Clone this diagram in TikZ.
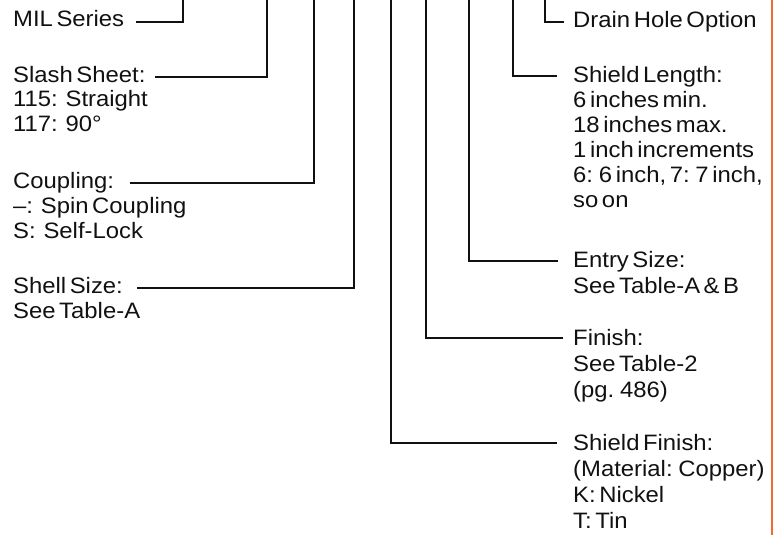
\documentclass[tikz,border=0pt]{standalone}
\usepackage{fontspec}
\setmainfont{Liberation Sans}[FakeStretch=1.07]
\usetikzlibrary{positioning}
\definecolor{Ink}{HTML}{111111}
\definecolor{Edge}{HTML}{F26A2E}
\newcommand\noteFont{\fontsize{22.3}{25}\selectfont\spaceskip=3.6pt plus 1pt\relax}
\newcommand\wideFont{\fontsize{22.3}{26.3}\selectfont\spaceskip=3.6pt plus 1pt\relax}
\newcommand\optgap{\hspace{.35em}}
\tikzset{
  note/.style={inner sep=0pt,anchor=base west,align=left,text=Ink},
  lead/.style={draw=Ink,line width=1.5pt},
  edgeLine/.style={draw=Edge,line width=2.2pt}
}

\begin{document}
\begin{tikzpicture}[x=1pt,y=-1pt,font=\noteFont]
  \useasboundingbox (0,0) rectangle (773,535);
  % left column (option nodes sit on the baseline of their last line)
  \node[note] (mil) at (13,27) {MIL Series};
  \node[note] (slash) at (13,82) {Slash Sheet:};
  \node[note] (slashOpt) at ([yshift=-49pt]slash.base west) {115:\optgap Straight\\117:\optgap 90°};
  \node[note] (coupling) at (13,188) {Coupling:};
  \node[note] (couplingOpt) at ([yshift=-50pt]coupling.base west) {–:\optgap Spin Coupling\\S:\optgap Self-Lock};
  \node[note] (shell) at (13,293) {Shell Size:};
  \node[note] (shellOpt) at ([yshift=-25pt]shell.base west) {See Table-A};
  % right column
  \node[note] (drain) at (573,28) {Drain Hole Option};
  \node[note] (length) at (573,82) {Shield Length:};
  \node[note] (lengthOpt) at ([yshift=-125pt]length.base west) {6 inches min.\\18 inches max.\\1 inch increments\\6: 6 inch, 7: 7 inch,\\so on};
  \node[note] (entry) at (573,267) {Entry Size:};
  \node[note] (entryOpt) at ([yshift=-26pt]entry.base west) {See Table-A \& B};
  \node[note] (finish) at (573,345) {Finish:};
  \node[note,font=\wideFont] (finishOpt) at ([yshift=-52.6pt]finish.base west) {See Table-2\\(pg. 486)};
  \node[note] (shieldFin) at (573,450) {Shield Finish:};
  \node[note,font=\wideFont] (shieldFinOpt) at ([yshift=-78.9pt]shieldFin.base west) {(Material: Copper)\\K: Nickel\\T: Tin};
  % top ends of the leaders
  \coordinate (milTop) at (183,0);
  \coordinate (slashTop) at (267,0);
  \coordinate (couplingTop) at (314,0);
  \coordinate (shellTop) at (354,0);
  \coordinate (shieldFinTop) at (391,0);
  \coordinate (finishTop) at (426,0);
  \coordinate (entryTop) at (469,0);
  \coordinate (lengthTop) at (513,0);
  \coordinate (drainTop) at (545,0);
  % leaders
  \draw[lead] ([xshift=12pt,yshift=5pt]mil.base east) -| (milTop);
  \draw[lead] ([xshift=9pt,yshift=5pt]slash.base east) -| (slashTop);
  \draw[lead] ([xshift=16pt,yshift=5pt]coupling.base east) -| (couplingTop);
  \draw[lead] ([xshift=14pt,yshift=5pt]shell.base east) -| (shellTop);
  \draw[lead] (drainTop) |- ([xshift=-9pt,yshift=6pt]drain.base west);
  \draw[lead] (lengthTop) |- ([xshift=-16pt,yshift=6pt]length.base west);
  \draw[lead] (entryTop) |- ([xshift=-15pt,yshift=6pt]entry.base west);
  \draw[lead] (finishTop) |- ([xshift=-10pt,yshift=7pt]finish.base west);
  \draw[lead] (shieldFinTop) |- ([xshift=-16pt,yshift=7pt]shieldFin.base west);
  % page edge
  \draw[edgeLine] (771.9,0) -- (771.9,535);
\end{tikzpicture}
\end{document}
